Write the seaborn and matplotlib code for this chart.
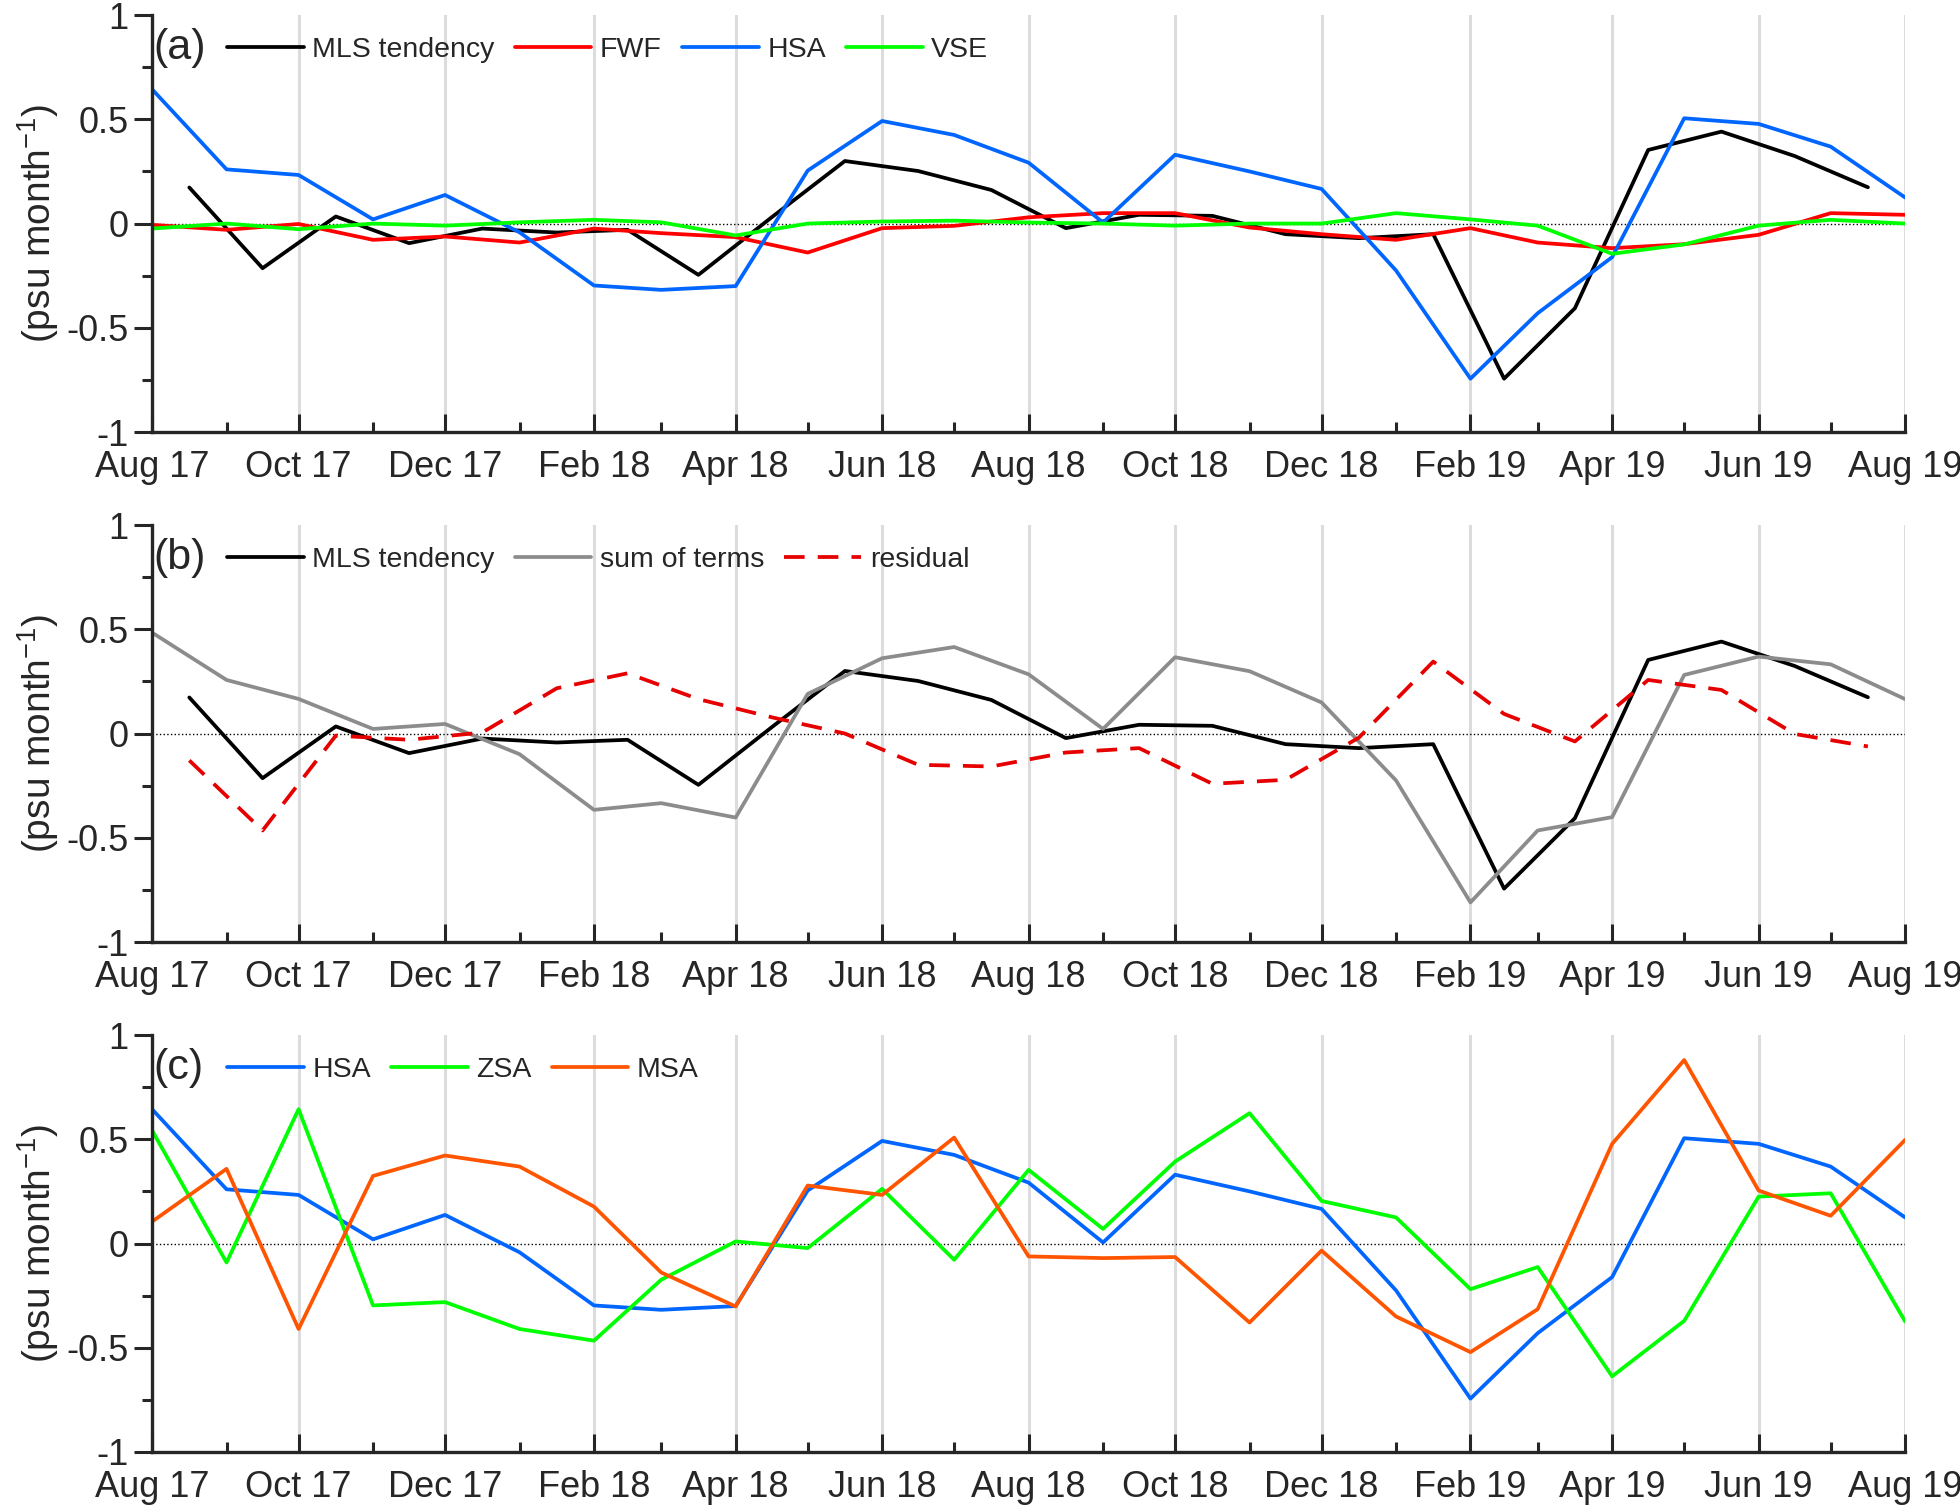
import numpy as np
import pandas as pd
import matplotlib
matplotlib.use('Agg')
import matplotlib.pyplot as plt
import matplotlib.dates as mdates
import seaborn as sns

# months Aug 17 .. Aug 19 (month start) and mid-month points for tendencies
meses = pd.date_range('2017-08-01', '2019-08-01', freq='MS')
medios = meses[:-1] + (meses[1:] - meses[:-1]) / 2

# panel (a)
mls = [0.173, -0.214, 0.034, -0.094, -0.024, -0.043, -0.030, -0.246, 0.030, 0.300,
       0.252, 0.161, -0.022, 0.042, 0.037, -0.051, -0.070, -0.051, -0.744, -0.406,
       0.353, 0.441, 0.324, 0.174]
fwf = [-0.006, -0.030, -0.002, -0.078, -0.062, -0.091, -0.024, -0.046, -0.065, -0.139,
       -0.022, -0.011, 0.030, 0.050, 0.050, -0.019, -0.051, -0.078, -0.022, -0.091,
       -0.118, -0.099, -0.054, 0.050, 0.042]
hsa = [0.644, 0.260, 0.233, 0.020, 0.137, -0.042, -0.297, -0.318, -0.300, 0.254,
       0.492, 0.425, 0.292, 0.005, 0.330, 0.250, 0.166, -0.225, -0.744, -0.430,
       -0.161, 0.505, 0.478, 0.369, 0.125]
vse = [-0.024, 0.000, -0.027, 0.000, -0.010, 0.006, 0.018, 0.006, -0.057, 0.000,
       0.010, 0.014, 0.005, 0.000, -0.010, 0.000, 0.000, 0.050, 0.020, -0.010,
       -0.145, -0.100, -0.010, 0.018, 0.000]

# panel (b)
suma = [0.484, 0.257, 0.166, 0.022, 0.046, -0.099, -0.366, -0.334, -0.403, 0.190,
        0.361, 0.415, 0.284, 0.022, 0.366, 0.299, 0.149, -0.225, -0.810, -0.465,
        -0.401, 0.281, 0.369, 0.332, 0.165]
residuo = [-0.129, -0.465, -0.010, -0.030, 0.005, 0.217, 0.289, 0.165, 0.078, 0.000,
           -0.150, -0.158, -0.091, -0.070, -0.241, -0.222, -0.020, 0.345, 0.094, -0.038,
           0.257, 0.209, -0.002, -0.062]

# panel (c)
zsa = [0.542, -0.091, 0.644, -0.297, -0.281, -0.410, -0.466, -0.174, 0.010, -0.022,
       0.262, -0.078, 0.353, 0.070, 0.393, 0.625, 0.204, 0.125, -0.219, -0.113,
       -0.637, -0.371, 0.225, 0.241, -0.374]
msa = [0.105, 0.358, -0.410, 0.324, 0.422, 0.369, 0.177, -0.139, -0.302, 0.278,
       0.233, 0.508, -0.062, -0.070, -0.065, -0.379, -0.034, -0.350, -0.521, -0.315,
       0.478, 0.880, 0.254, 0.133, 0.497]

sns.set_style('ticks')
plt.rcParams['font.family'] = ['Liberation Sans', 'DejaVu Sans']
plt.rcParams['mathtext.default'] = 'regular'
plt.rcParams['axes.unicode_minus'] = False

NEGRO = '#000000'
ROJO = '#ff0000'
AZUL = '#0066ff'
VERDE = '#00ff00'
GRIS = '#8c8c8c'
NARANJA = '#ff5500'
LW = 2.7
EJE = '#262626'

fig = plt.figure(figsize=(19.6, 15.07), dpi=100)
izq, ancho, alto = 0.0776, 0.8944, 0.2767
ax_a = fig.add_axes([izq, 0.7133, ancho, alto])
ax_b = fig.add_axes([izq, 0.3749, ancho, alto])
ax_c = fig.add_axes([izq, 0.0365, ancho, alto])


def formato(ax, letra):
    ax.set_xlim(meses[0], meses[-1])
    ax.set_ylim(-1, 1)
    ax.axhline(0, color='k', lw=1.0, ls=':', zorder=1)
    ax.xaxis.set_major_locator(mdates.MonthLocator(bymonth=(2, 4, 6, 8, 10, 12)))
    ax.xaxis.set_minor_locator(mdates.MonthLocator())
    ax.xaxis.set_major_formatter(mdates.DateFormatter('%b %y'))
    ax.set_yticks([-1, -0.5, 0, 0.5, 1])
    ax.set_yticklabels(['-1', '-0.5', '0', '0.5', '1'])
    ax.set_yticks([-0.75, -0.25, 0.25, 0.75], minor=True)
    ax.grid(axis='x', which='major', color='#dcdcdc', lw=2.2, zorder=0)
    ax.set_axisbelow(True)
    for lado in ['top', 'right']:
        ax.spines[lado].set_visible(False)
    for lado in ['left', 'bottom']:
        ax.spines[lado].set_linewidth(2.4)
        ax.spines[lado].set_color(EJE)
    ax.tick_params(axis='x', which='major', direction='in', length=13, width=2.2,
                   labelsize=26, pad=13, color=EJE)
    ax.tick_params(axis='x', which='minor', direction='in', length=7, width=2.2,
                   color=EJE)
    ax.tick_params(axis='y', which='major', direction='out', length=13, width=2.2,
                   labelsize=26, pad=4, color=EJE)
    ax.tick_params(axis='y', which='minor', direction='out', length=7, width=2.2,
                   color=EJE)
    ax.set_xlabel('')
    ax.set_ylabel('(psu month$^{-1}$)', fontsize=28, labelpad=4)
    ax.text(0.001, 0.922, letra, transform=ax.transAxes, fontsize=31,
            va='center', ha='left')


def leyenda(ax):
    ax.legend(loc='upper left', bbox_to_anchor=(0.028, 1.008), ncol=4, frameon=False,
              fontsize=20.5, handlelength=2.7, handletextpad=0.3, columnspacing=0.7)


# (a)
sns.lineplot(x=medios, y=mls, color=NEGRO, lw=LW, label='MLS tendency', ax=ax_a)
sns.lineplot(x=meses, y=fwf, color=ROJO, lw=LW, label='FWF', ax=ax_a)
sns.lineplot(x=meses, y=hsa, color=AZUL, lw=LW, label='HSA', ax=ax_a)
sns.lineplot(x=meses, y=vse, color=VERDE, lw=LW, label='VSE', ax=ax_a)
formato(ax_a, '(a)')
leyenda(ax_a)

# (b)
sns.lineplot(x=medios, y=mls, color=NEGRO, lw=LW, label='MLS tendency', ax=ax_b)
sns.lineplot(x=meses, y=suma, color=GRIS, lw=LW, label='sum of terms', ax=ax_b)
sns.lineplot(x=medios, y=residuo, color='#e60000', lw=LW, label='residual', ax=ax_b)
ax_b.lines[-1].set_linestyle((0, (5.5, 3.5)))
formato(ax_b, '(b)')
leyenda(ax_b)

# (c)
sns.lineplot(x=meses, y=hsa, color=AZUL, lw=LW, label='HSA', ax=ax_c)
sns.lineplot(x=meses, y=zsa, color=VERDE, lw=LW, label='ZSA', ax=ax_c)
sns.lineplot(x=meses, y=msa, color=NARANJA, lw=LW, label='MSA', ax=ax_c)
formato(ax_c, '(c)')
leyenda(ax_c)

fig.savefig('out.png', dpi=100)
